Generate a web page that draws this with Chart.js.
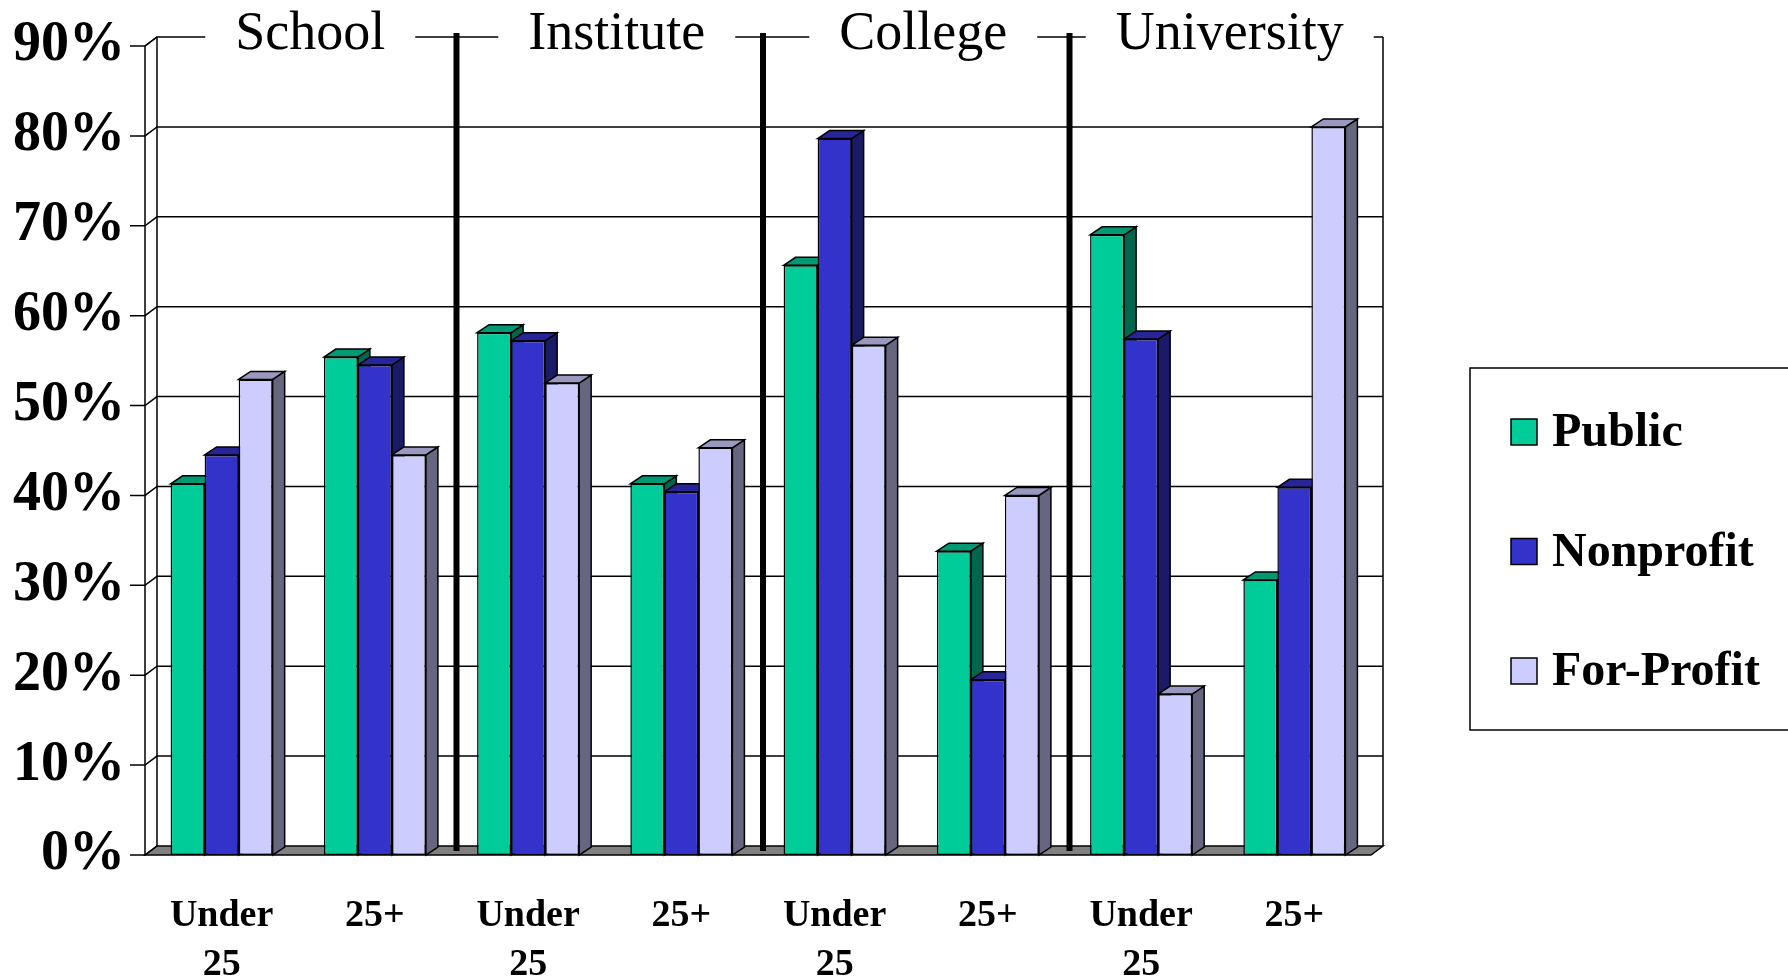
<!DOCTYPE html>
<html>
<head>
<meta charset="utf-8">
<script src="https://cdn.jsdelivr.net/npm/chart.js@4.4.0/dist/chart.umd.min.js"></script>
<style>
  html, body { margin: 0; padding: 0; background: #fff; }
</style>
</head>
<body>
<canvas id="myChart" width="1788" height="977"></canvas>
<script>
// chart data
const categories = [['Under', '25'], '25+', ['Under', '25'], '25+', ['Under', '25'], '25+', ['Under', '25'], '25+'];
const groups = ['School', 'Institute', 'College', 'University'];
const seriesNames = ['Public', 'Nonprofit', 'For-Profit'];
const publicValues = [41.3, 55.4, 58.1, 41.3, 65.6, 33.8, 69.0, 30.6];
const nonprofitValues = [44.5, 54.5, 57.2, 40.4, 79.7, 19.5, 57.4, 40.9];
const forProfitValues = [52.9, 44.5, 52.5, 45.3, 56.7, 40.0, 17.9, 81.0];
const colors = ['#00CC99', '#3333CC', '#CCCCFF'];

const SERIF = '"Liberation Serif", "Times New Roman", serif';
const WALL_DX = 12, WALL_DY = 9;   // depth of the box
const BAR_DX = 12, BAR_DY = 8;     // depth of each bar

function shade(hex, f) {
    const n = parseInt(hex.slice(1), 16);
    const r = Math.round(((n >> 16) & 255) * f);
    const g = Math.round(((n >> 8) & 255) * f);
    const b = Math.round((n & 255) * f);
    return `rgb(${r},${g},${b})`;
}

function poly(ctx, pts, fill) {
    ctx.beginPath();
    ctx.moveTo(pts[0][0], pts[0][1]);
    for (let i = 1; i < pts.length; i++) ctx.lineTo(pts[i][0], pts[i][1]);
    ctx.closePath();
    if (fill) {
        ctx.fillStyle = fill;
        ctx.fill();
    }
    ctx.stroke();
}

// group boundary between category k-1 and k
function boundary(x, k, a) {
    if (k <= 0) return a.left;
    if (k >= categories.length) return a.right;
    return (x.getPixelForValue(k - 1) + x.getPixelForValue(k)) / 2;
}

const box3d = {
    id: 'box3d',
    beforeDatasetsDraw(chart) {
        const { ctx, chartArea: a, scales: { x, y } } = chart;
        ctx.save();
        ctx.strokeStyle = '#000';
        ctx.lineWidth = 1.5;

        // floor
        poly(ctx, [[a.left, a.bottom], [a.right, a.bottom], [a.right + WALL_DX, a.bottom - WALL_DY], [a.left + WALL_DX, a.bottom - WALL_DY]], '#808080');

        // tick marks, side wall and back wall gridlines
        y.ticks.forEach(t => {
            const py = y.getPixelForValue(t.value);
            ctx.beginPath();
            ctx.moveTo(a.left - 15, py);
            ctx.lineTo(a.left, py);
            ctx.lineTo(a.left + WALL_DX, py - WALL_DY);
            if (t.value > 0 && t.value < 90) ctx.lineTo(a.right + WALL_DX, py - WALL_DY);
            ctx.stroke();
        });

        // front axis and wall edges
        ctx.beginPath();
        ctx.moveTo(a.left, a.top);
        ctx.lineTo(a.left, a.bottom);
        ctx.moveTo(a.left + WALL_DX, a.top - WALL_DY);
        ctx.lineTo(a.left + WALL_DX, a.bottom - WALL_DY);
        ctx.moveTo(a.right + WALL_DX, a.top - WALL_DY);
        ctx.lineTo(a.right + WALL_DX, a.bottom - WALL_DY);
        ctx.stroke();

        // thick dividers between groups
        ctx.lineWidth = 6;
        ctx.beginPath();
        for (let g = 1; g < groups.length; g++) {
            const px = boundary(x, 2 * g, a) + WALL_DX / 2 - 1;
            ctx.moveTo(px, a.top - WALL_DY - 4);
            ctx.lineTo(px, a.bottom - 4);
        }
        ctx.stroke();

        // side and top faces of the bars
        ctx.lineWidth = 1.5;
        for (let i = 0; i < categories.length; i++) {
            chart.data.datasets.forEach((ds, d) => {
                const bar = chart.getDatasetMeta(d).data[i];
                const l = bar.x - bar.width / 2, r = bar.x + bar.width / 2;
                const t = bar.y, b = bar.base;
                poly(ctx, [[r, t], [r + BAR_DX, t - BAR_DY], [r + BAR_DX, b - BAR_DY], [r, b]], shade(colors[d], 0.5));
                poly(ctx, [[l, t], [l + BAR_DX, t - BAR_DY], [r + BAR_DX, t - BAR_DY], [r, t]], shade(colors[d], 0.75));
            });
        }
        ctx.restore();
    },
    afterDraw(chart) {
        const { ctx, chartArea: a, scales: { x } } = chart;
        const topY = a.top - WALL_DY;
        ctx.save();
        ctx.strokeStyle = '#000';
        ctx.lineWidth = 1.5;

        // top edge of the box
        ctx.beginPath();
        ctx.moveTo(a.left, a.top);
        ctx.lineTo(a.left + WALL_DX, topY);
        ctx.lineTo(a.right + WALL_DX, topY);
        ctx.stroke();

        // group titles over the top edge
        ctx.font = '54px ' + SERIF;
        ctx.textAlign = 'center';
        ctx.textBaseline = 'alphabetic';
        groups.forEach((g, k) => {
            const cx = (boundary(x, 2 * k, a) + boundary(x, 2 * k + 2, a)) / 2 + WALL_DX;
            const w = ctx.measureText(g).width + 60;
            ctx.fillStyle = '#fff';
            ctx.fillRect(cx - w / 2, topY - 30, w, 60);
            ctx.fillStyle = '#000';
            ctx.fillText(g, cx, 49);
        });

        // legend
        const lx = 1470, ly = 368;
        ctx.strokeRect(lx, ly, 340, 362);
        ctx.font = 'bold 48px ' + SERIF;
        ctx.textAlign = 'left';
        ctx.textBaseline = 'middle';
        chart.data.datasets.forEach((ds, d) => {
            const cy = 432 + d * 119.5;
            ctx.fillStyle = ds.backgroundColor;
            ctx.fillRect(lx + 41, cy - 13, 26, 26);
            ctx.strokeRect(lx + 41, cy - 13, 26, 26);
            ctx.fillStyle = '#000';
            ctx.fillText(ds.label, lx + 82, cy + 2);
        });
        ctx.restore();
    }
};

const values = [publicValues, nonprofitValues, forProfitValues];

const ctx = document.getElementById('myChart').getContext('2d');
new Chart(ctx, {
    type: 'bar',
    data: {
        labels: categories,
        datasets: seriesNames.map((name, d) => ({
            label: name,
            data: values[d],
            backgroundColor: colors[d],
            borderColor: '#000',
            borderWidth: 1.5,
            borderSkipped: false,
            categoryPercentage: 0.666,
            barPercentage: 1
        }))
    },
    options: {
        responsive: false,
        animation: false,
        layout: { padding: { top: 46, right: 417, left: 0, bottom: 0 } },
        plugins: {
            legend: { display: false },
            tooltip: { enabled: false }
        },
        scales: {
            x: {
                grid: { display: false, drawTicks: false },
                border: { display: false },
                ticks: {
                    color: '#000',
                    font: { family: SERIF, size: 38, weight: 'bold', lineHeight: 1.29 },
                    padding: 37,
                    maxRotation: 0,
                    autoSkip: false
                },
                afterFit: s => { s.height = 122; s.paddingLeft = 0; s.paddingRight = 0; }
            },
            y: {
                min: 0,
                max: 90,
                grid: { display: false, drawTicks: false },
                border: { display: false },
                ticks: {
                    stepSize: 10,
                    color: '#000',
                    font: { family: SERIF, size: 56, weight: 'bold' },
                    padding: 20,
                    callback: v => v + '%'
                },
                afterFit: s => { s.width = 145; s.paddingTop = 0; s.paddingBottom = 0; }
            }
        }
    },
    plugins: [box3d]
});
</script>
</body>
</html>
